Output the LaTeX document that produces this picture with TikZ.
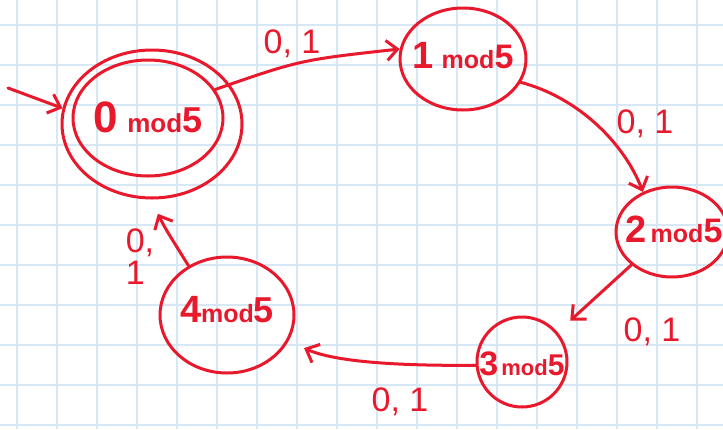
\documentclass[tikz,border=0pt]{standalone}
\usepackage{fontspec}
\setmainfont{Liberation Sans}
\usetikzlibrary{arrows.meta,shapes.geometric}
\definecolor{ink}{HTML}{E8192C}
\definecolor{gridblue}{HTML}{D6E8F6}
% #1 digit, #2 digit size, #3 gap, #4 mod size, #5 five size
\newcommand\stlab[5]{\bfseries{\fontsize{#2}{#2}\selectfont #1}\hspace{#3}{\fontsize{#4}{#4}\selectfont mod}{\fontsize{#5}{#5}\selectfont 5}}
\tikzset{
  statebox/.style={draw=ink, line width=3pt, ellipse, inner sep=0pt},
  labfont/.style={text=ink, inner sep=0pt, font=\fontsize{34}{32}\selectfont},
  trans/.style={draw=ink, line width=3pt, line cap=round, -{Straight Barb[length=11pt,width=20pt]}},
}
\begin{document}
\begin{tikzpicture}[x=1pt, y=-1pt]
\useasboundingbox (0,0) rectangle (723,429);
\clip (0,0) rectangle (723,429);
\fill[white] (0,0) rectangle (723,429);
% grid
\foreach \gx in {17,57,...,697} \draw[gridblue, line width=1.6pt] (\gx,0) -- (\gx,429);
\foreach \gy in {25,65,...,425} \draw[gridblue, line width=1.6pt] (0,\gy) -- (723,\gy);
% states
\node[statebox, minimum width=180pt, minimum height=148pt] (q0o) at (152,124) {};
\node[statebox, minimum width=150pt, minimum height=116pt,
  label={[text=ink, yshift=1pt]center:\stlab{0}{44}{9pt}{26}{36}}] (q0) at (148,118) {};
\node[statebox, minimum width=126pt, minimum height=102pt,
  label={[text=ink, yshift=3pt]center:\stlab{1}{38}{8pt}{25}{34}}] (q1) at (463,59) {};
\node[statebox, minimum width=112pt, minimum height=90pt,
  label={[text=ink, xshift=2pt, yshift=3pt]center:\stlab{2}{38}{4pt}{25}{34}}] (q2) at (672,232) {};
\node[statebox, minimum width=90pt, minimum height=90pt,
  label={[text=ink, yshift=-2pt]center:\stlab{3}{34}{3pt}{22}{30}}] (q3) at (522,362) {};
\node[statebox, minimum width=134pt, minimum height=116pt,
  label={[text=ink, yshift=5pt]center:\stlab{4}{38}{0pt}{25}{36}}] (q4) at (227,315) {};
% start
\coordinate (start) at (8,88);
\draw[trans] (start) -- (q0o.170);
% transitions
\draw[trans] (q0.23) .. controls (300,60) .. (q1.171);
\draw[trans] (q1.-22) .. controls (580,98) and (625,145) .. (q2.126);
\draw[trans, shorten >=17pt] (q2.-141) -- (q3.40);
\draw[trans, shorten >=17pt] (q3.184) .. controls (400,366) and (335,362) .. (q4.-23);
\draw[trans, shorten >=16pt] (q4.128) .. controls (165,228) .. (q0o.-91);
% labels
\node[labfont] (l01) at (292,44) {0, 1};
\node[labfont] (l12) at (645,124) {0, 1};
\node[labfont] (l23) at (652,332) {0, 1};
\node[labfont] (l34) at (400,402) {0, 1};
\node[labfont, align=left] (l40) at (140,257) {0,\\1};
\end{tikzpicture}
\end{document}
